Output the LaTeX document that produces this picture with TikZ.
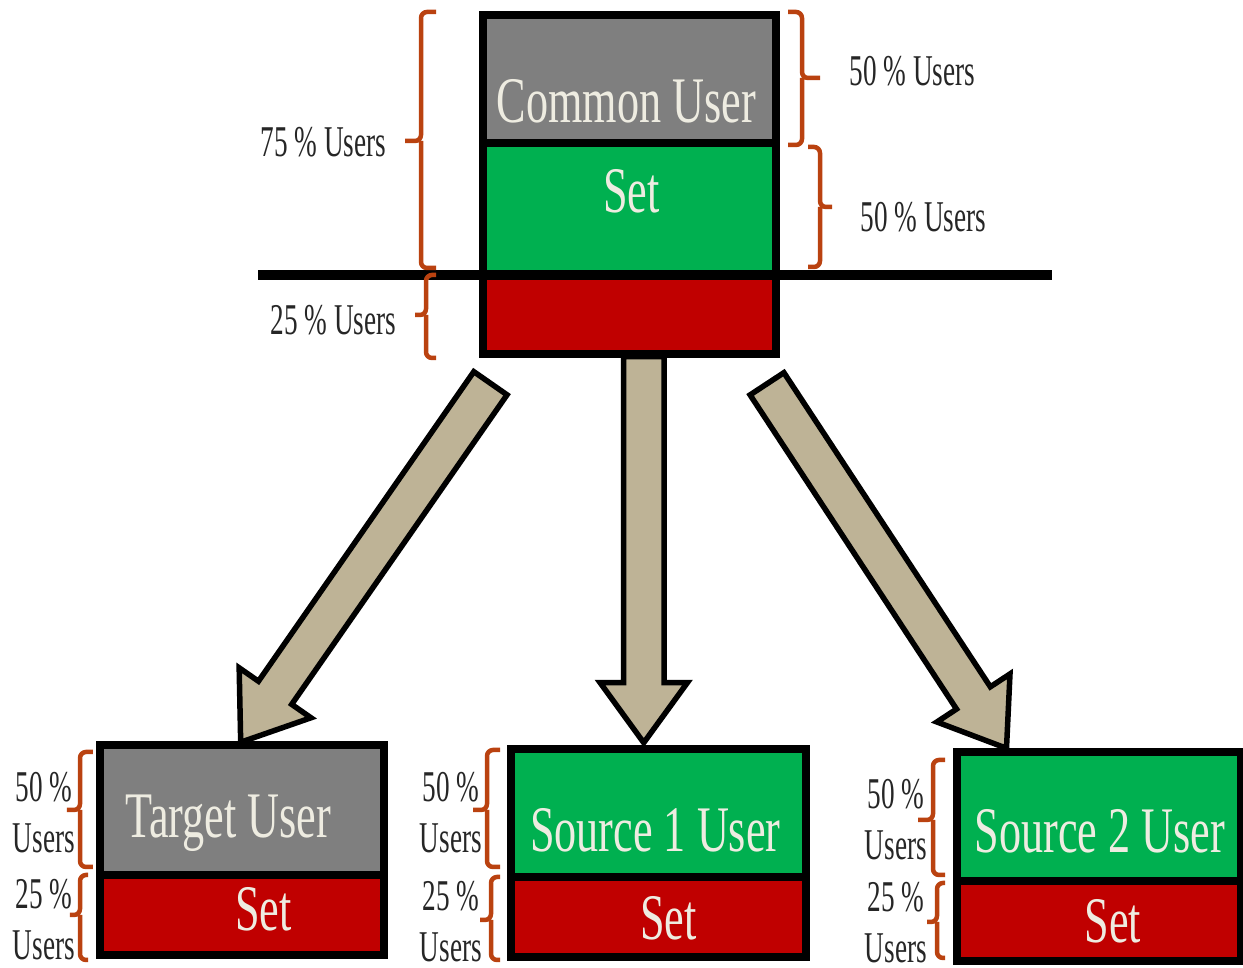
\documentclass[tikz,border=0pt]{standalone}
\usepackage{fontspec}
\newfontfamily\boxfont[FakeStretch=0.68]{Liberation Serif}
\newfontfamily\lblfont[FakeStretch=0.62]{Liberation Serif}
\usetikzlibrary{positioning,calc,shapes.arrows,backgrounds}

\definecolor{usergray}{HTML}{7F7F7F}
\definecolor{usergreen}{HTML}{00B050}
\definecolor{userred}{HTML}{C00000}
\definecolor{arrowtan}{RGB}{190,179,150}
\definecolor{bracerust}{RGB}{186,66,16}
\definecolor{boxtext}{HTML}{EEECE1}

\tikzset{
  userpart/.style={draw=black, line width=0.08cm, outer sep=0pt, inner sep=0pt},
  boxtxt/.style={text=boxtext, font=\boxfont\fontsize{18.5}{20}\selectfont, inner sep=0pt, text height=0.43cm, text depth=0pt},
  pct/.style={font=\lblfont\fontsize{12.5}{14.5}\selectfont, inner sep=0pt, text=black!85},
  brc/.style={draw=bracerust, line width=0.045cm, rounded corners=0.06cm},
  blockarr/.style={single arrow, draw=black, fill=arrowtan, line width=0.055cm, minimum width=0.82cm,
    single arrow head extend=0.235cm, single arrow tip angle=72, inner sep=0.175cm, anchor=tail},
  sepline/.style={line width=0.1cm}
}

\begin{document}
\begin{tikzpicture}
  \useasboundingbox (0,0) rectangle (12.43,-9.68);

  % common user block
  \node[userpart, fill=usergray, minimum width=2.935cm, minimum height=1.28cm] (cgray) at (6.2925,-0.79) {};
  \node[userpart, fill=usergreen, minimum width=2.935cm, minimum height=1.32cm, below=0pt of cgray] (cset) {};
  \node[userpart, fill=userred, minimum width=2.935cm, minimum height=0.79cm, below=0pt of cset] (cred) {};
  \draw[sepline] ($(cset.south west)+(-2.245,0)$) -- ($(cset.south east)+(2.76,0)$);

  % target and source blocks
  \node[userpart, fill=usergray, minimum width=2.835cm, minimum height=1.30cm] (tgray) at (2.4225,-8.10) {};
  \node[userpart, fill=userred, minimum width=2.835cm, minimum height=0.80cm, below=0pt of tgray] (tred) {};
  \node[userpart, fill=usergreen, minimum width=2.945cm, minimum height=1.285cm] (s1green) at (6.5825,-8.1325) {};
  \node[userpart, fill=userred, minimum width=2.945cm, minimum height=0.80cm, below=0pt of s1green] (s1red) {};
  \node[userpart, fill=usergreen, minimum width=2.84cm, minimum height=1.29cm] (s2green) at (10.985,-8.17) {};
  \node[userpart, fill=userred, minimum width=2.84cm, minimum height=0.795cm, below=0pt of s2green] (s2red) {};

  \node[boxtxt] (tcommon) at ($(cgray)+(-0.03,-0.22)$) {Common User};
  \node[boxtxt] (tcset) at ($(cset)+(0.02,0.175)$) {Set};
  \node[boxtxt] (ttarget) at ($(tgray)+(-0.14,-0.06)$) {Target User};
  \node[boxtxt] (ttset) at ($(tred)+(0.21,0.06)$) {Set};
  \node[boxtxt] (tsrc1) at ($(s1green)+(-0.03,-0.17)$) {Source 1 User};
  \node[boxtxt] (ts1set) at ($(s1red)+(0.10,-0.01)$) {Set};
  \node[boxtxt] (tsrc2) at ($(s2green)+(0.015,-0.145)$) {Source 2 User};
  \node[boxtxt] (ts2set) at ($(s2red)+(0.145,0)$) {Set};

  % block arrows
  \coordinate (ltail) at ($(cred.south west)+(0.095,-0.27)$);
  \coordinate (ltip) at ($(tgray.north)+(0,0.05)$);
  \coordinate (mtail) at ($(cred.south)+(0.145,0)$);
  \coordinate (mtip) at ($(mtail |- s1green.north)+(0,0.09)$);
  \coordinate (rtail) at ($(cred.south east)+(-0.105,-0.275)$);
  \coordinate (rtip) at ($(s2green.north west)+(0.485,0.065)$);
  \begin{scope}[on background layer]
    \foreach \a/\b/\nm in {ltail/ltip/aleft, mtail/mtip/amid, rtail/rtip/aright}
      \path let \p1=(\a), \p2=(\b), \n1={veclen(\x2-\x1,\y2-\y1)}, \n2={atan2(\y2-\y1,\x2-\x1)} in
        node[blockarr, minimum height=\n1, rotate=\n2] (\nm) at (\a) {};
  \end{scope}

  % braces
  \foreach \xv/\xe/\xt/\yt/\ym/\yb in {4.21/4.36/4.05/-0.12/-1.41/-2.68, 4.26/4.36/4.15/-2.75/-3.15/-3.58,
      8.02/7.88/8.20/-0.12/-0.78/-1.45, 8.20/8.08/8.32/-1.47/-2.07/-2.67,
      0.80/0.93/0.67/-7.52/-8.10/-8.67, 0.80/0.88/0.70/-8.75/-9.15/-9.60,
      4.87/5.00/4.73/-7.50/-8.10/-8.67, 4.91/5.00/4.80/-8.77/-9.20/-9.60,
      9.33/9.45/9.18/-7.60/-8.20/-8.75, 9.37/9.45/9.27/-8.83/-9.22/-9.58}
    \draw[brc] (\xe,\yt) -- (\xv,\yt) -- (\xv,\ym) -- (\xt,\ym) (\xv,\ym) -- (\xv,\yb) -- (\xe,\yb);

  % percentages
  \node[pct, anchor=base east] (p75) at (3.87,-1.57) {75 \% Users};
  \node[pct, anchor=base east] (p25) at (3.97,-3.35) {25 \% Users};
  \node[pct, anchor=base west] (p50a) at (8.49,-0.86) {50 \% Users};
  \node[pct, anchor=base west] (p50b) at (8.60,-2.32) {50 \% Users};
  \node[pct, align=center, text depth=0pt, anchor=south] (pt50) at (0.44,-8.53) {50 \%\\Users};
  \node[pct, align=center, text depth=0pt, anchor=south] (pt25) at (0.44,-9.60) {25 \%\\Users};
  \node[pct, align=center, text depth=0pt, anchor=south] (ps150) at (4.51,-8.53) {50 \%\\Users};
  \node[pct, align=center, text depth=0pt, anchor=south] (ps125) at (4.51,-9.62) {25 \%\\Users};
  \node[pct, align=center, text depth=0pt, anchor=south] (ps250) at (8.96,-8.60) {50 \%\\Users};
  \node[pct, align=center, text depth=0pt, anchor=south] (ps225) at (8.96,-9.63) {25 \%\\Users};
\end{tikzpicture}
\end{document}
